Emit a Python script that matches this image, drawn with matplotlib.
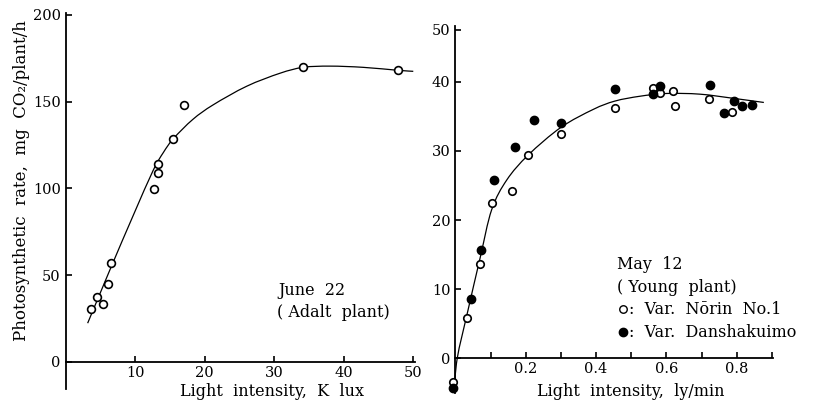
import matplotlib
matplotlib.use("Agg")
import matplotlib.pyplot as plt
from matplotlib.path import Path
from matplotlib.patches import PathPatch

# ---------------- data: left panel (June 22, adult plant) ----------------
june_x = [3.64, 4.51, 5.41, 6.04, 6.47, 12.66, 13.23, 13.32, 15.48, 17.06, 34.1, 47.8]
june_y = [30.2, 37.3, 33.1, 44.6, 57.1, 99.8, 108.7, 114.0, 128.6, 147.9, 170.2, 168.1]
june_curve_x = [3.16, 6.47, 9.73, 12.6, 14.04, 15.48, 18.3, 21.23, 26.04, 30.83, 34.18, 38.02, 42.8, 47.76, 50.0]
june_curve_y = [22.2, 54.0, 84.5, 110.5, 120.6, 128.6, 139.8, 148.2, 158.9, 166.4, 169.8, 170.5, 169.8, 168.1, 167.5]

# ---------------- data: right panel (May 12, young plant) ----------------
norin_x = [-0.008, 0.034, 0.070, 0.103, 0.160, 0.207, 0.300, 0.454, 0.562, 0.583, 0.619, 0.625, 0.722, 0.787]
norin_y = [-3.4, 5.8, 13.7, 22.4, 24.2, 29.4, 32.5, 36.2, 39.1, 38.3, 38.7, 36.5, 37.5, 35.6]
dansh_x = [-0.008, 0.044, 0.072, 0.110, 0.169, 0.224, 0.300, 0.454, 0.562, 0.581, 0.723, 0.763, 0.792, 0.814, 0.842]
dansh_y = [-4.3, 8.6, 15.7, 25.8, 30.6, 34.4, 34.0, 38.9, 38.2, 39.4, 39.5, 35.5, 37.2, 36.5, 36.6]
may_curve_x = [-0.004, 0.005, 0.034, 0.070, 0.103, 0.146, 0.207, 0.300, 0.392, 0.4535, 0.5246, 0.60, 0.695, 0.79, 0.877]
may_curve_y = [-5.0, 0.0, 6.6, 14.5, 21.5, 25.8, 29.4, 33.4, 36.0, 37.2, 37.9, 38.3, 38.2, 37.6, 37.0]

left_xticks = [10, 20, 30, 40, 50]
left_yticks = [0, 50, 100, 150, 200]
right_xticks = [0.2, 0.4, 0.6, 0.8]
right_xminor = [0.1, 0.3, 0.5, 0.7, 0.9]
right_yticks = [0, 10, 20, 30, 40, 47.5]
right_ylabels = ["0", "10", "20", "30", "40", "50"]

plt.rcParams['font.family'] = ['DejaVu Serif']
FS = 10.5
FL = 11.5


def smooth_path(xs, ys):
    """Smooth curve through the read points (Catmull-Rom drawn as Bezier path)."""
    pts = list(zip(xs, ys))
    n = len(pts)
    verts = [pts[0]]
    codes = [Path.MOVETO]
    for i in range(n - 1):
        p0 = pts[i - 1] if i > 0 else pts[i]
        p1 = pts[i]
        p2 = pts[i + 1]
        p3 = pts[i + 2] if i + 2 < n else pts[i + 1]
        c1 = (p1[0] + (p2[0] - p0[0]) / 6.0, p1[1] + (p2[1] - p0[1]) / 6.0)
        c2 = (p2[0] - (p3[0] - p1[0]) / 6.0, p2[1] - (p3[1] - p1[1]) / 6.0)
        verts += [c1, c2, p2]
        codes += [Path.CURVE4] * 3
    return Path(verts, codes)


fig = plt.figure(figsize=(8.17, 4.03), dpi=100)
ax1 = fig.add_axes([0.0804, 0.035, 0.428, 0.9334])
ax2 = fig.add_axes([0.5575, 0.0251, 0.3882, 0.9094])


def style(ax):
    for s in ['top', 'right']:
        ax.spines[s].set_visible(False)
    ax.spines['bottom'].set_position(('data', 0))
    ax.spines['left'].set_position(('data', 0))
    for s in ['bottom', 'left']:
        ax.spines[s].set_linewidth(1.3)
        ax.spines[s].set_color('black')
    ax.tick_params(which='both', direction='in', length=4, width=1.2, labelsize=FS, colors='black')
    ax.tick_params(axis='x', pad=3)
    ax.tick_params(axis='y', pad=3.5)
    ax.patch.set_alpha(0)


# ---- left panel ----
style(ax1)
ax1.add_patch(PathPatch(smooth_path(june_curve_x, june_curve_y), fill=False,
                        edgecolor='black', lw=0.9, zorder=2))
ax1.plot(june_x, june_y, 'o', ms=5.6, mfc='white', mec='black', mew=1.2, zorder=3, clip_on=False)
ax1.set_xlim(0, 50.3)
ax1.set_ylim(-15.7, 201.3)
ax1.set_xticks(left_xticks)
ax1.set_yticks(left_yticks)
ax1.text(0.589, -0.008, "Light  intensity,  K  lux", transform=ax1.transAxes,
         ha='center', va='center', fontsize=FL)
ax1.text(-0.126, 0.553, "Photosynthetic  rate,  mg  CO\u2082/plant/h", transform=ax1.transAxes,
         ha='center', va='center', rotation=90, fontsize=12)
ax1.text(30.6, 41.2, "June  22", ha='left', va='center', fontsize=FL)
ax1.text(30.4, 28.4, "( Adalt  plant)", ha='left', va='center', fontsize=FL)

# ---- right panel ----
style(ax2)
ax2.add_patch(PathPatch(smooth_path(may_curve_x, may_curve_y), fill=False,
                        edgecolor='black', lw=0.9, zorder=2, clip_on=False))
ax2.plot(norin_x, norin_y, 'o', ms=5.4, mfc='white', mec='black', mew=1.2, zorder=3, clip_on=False)
ax2.plot(dansh_x, dansh_y, 'o', ms=6.0, mfc='black', mec='black', mew=1.0, zorder=3, clip_on=False)
ax2.set_xlim(0, 0.902)
ax2.set_ylim(-5, 48.0)
ax2.set_xticks(right_xticks)
ax2.set_xticks(right_xminor, minor=True)
ax2.set_yticks(right_yticks)
ax2.set_yticklabels(right_ylabels)
ax2.set_xticklabels([f"{v:.1f}" for v in right_xticks])
ax2.text(0.552, 0.004, "Light  intensity,  ly/min", transform=ax2.transAxes,
         ha='center', va='center', fontsize=FL)

ax2.text(0.460, 13.5, "May  12", ha='left', va='center', fontsize=FL)
ax2.text(0.460, 10.3, "( Young  plant)", ha='left', va='center', fontsize=FL)
ax2.plot([0.476], [7.1], 'o', ms=5.4, mfc='white', mec='black', mew=1.0, clip_on=False)
ax2.text(0.494, 7.1, ":  Var.  N\u014drin  No.1", ha='left', va='center', fontsize=FL)
ax2.plot([0.476], [3.75], 'o', ms=6.0, mfc='black', mec='black', clip_on=False)
ax2.text(0.494, 3.75, ":  Var.  Danshakuimo", ha='left', va='center', fontsize=FL)

fig.savefig("out.png", dpi=100, facecolor='white')
